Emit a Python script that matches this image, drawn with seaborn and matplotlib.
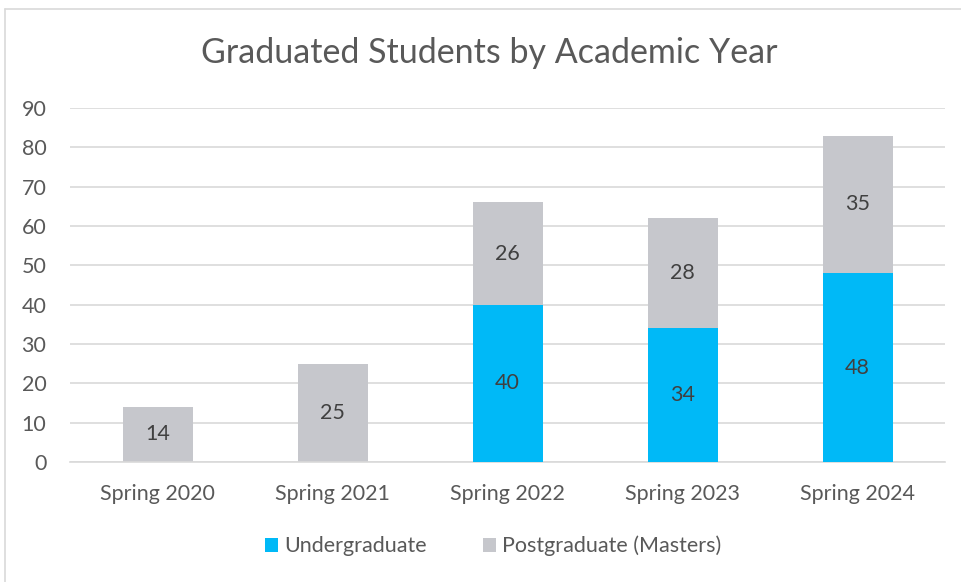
import matplotlib
matplotlib.use("Agg")
import matplotlib.pyplot as plt
import seaborn as sns
import pandas as pd
from matplotlib.patches import Patch
from matplotlib.lines import Line2D

categories = ["Spring 2020", "Spring 2021", "Spring 2022", "Spring 2023", "Spring 2024"]
undergraduate = [0, 0, 40, 34, 48]
postgraduate = [14, 25, 26, 28, 35]
yticks = [0, 10, 20, 30, 40, 50, 60, 70, 80, 90]

BLUE = "#00B9F7"
GRAY = "#C6C7CC"
TEXT = "#595959"

sns.set_theme(style="white")
plt.rcParams["font.family"] = ["Lato", "DejaVu Sans"]

df = pd.DataFrame({"cat": categories, "ug": undergraduate, "pg": postgraduate})
df["total"] = df["ug"] + df["pg"]

fig = plt.figure(figsize=(9.62, 5.82), dpi=100)
ax = fig.add_axes([70/962, 1-462/582, (945-70)/962, (462-108)/582])

sns.barplot(data=df, x="cat", y="total", color=GRAY, width=0.4, ax=ax,
            saturation=1, edgecolor="none", zorder=2)
sns.barplot(data=df, x="cat", y="ug", color=BLUE, width=0.4, ax=ax,
            saturation=1, edgecolor="none", zorder=3)

for i, (u, p) in enumerate(zip(undergraduate, postgraduate)):
    if u > 0:
        ax.text(i, u/2, str(u), ha="center", va="center", fontsize=15.5, color="#404040", zorder=5)
    if p > 0:
        ax.text(i, u + p/2, str(p), ha="center", va="center", fontsize=15.5, color="#404040", zorder=5)

ax.set_ylim(0, 90)
ax.set_xlim(-0.5, 4.5)
ax.set_yticks(yticks)
ax.yaxis.grid(True, color="#D9D9D9", linewidth=1.2, zorder=0)
ax.set_axisbelow(True)
for s in ["top", "right", "left"]:
    ax.spines[s].set_visible(False)
ax.spines["bottom"].set_color("#D9D9D9")
ax.spines["bottom"].set_linewidth(1.2)
ax.tick_params(axis="both", length=0, labelsize=15.5, labelcolor=TEXT)
ax.tick_params(axis="x", pad=16)
ax.tick_params(axis="y", pad=17)
ax.set_xlabel("")
ax.set_ylabel("")

fig.text(489/962, 1-53/582, "Graduated Students by Academic Year", ha="center", va="center",
         fontsize=24.5, color=TEXT)

handles = [Patch(facecolor=BLUE, edgecolor="none", label="Undergraduate"),
           Patch(facecolor=GRAY, edgecolor="none", label="Postgraduate (Masters)")]
fig.legend(handles=handles, loc="center", bbox_to_anchor=(493/962, 1-546/582), ncol=2,
           frameon=False, fontsize=15.5, labelcolor=TEXT, handlelength=0.6, handleheight=0.6,
           handletextpad=0.3, columnspacing=2.6)

# chart border (left and top)
fig.add_artist(Line2D([5/962, 5/962], [0, 1-9/582], color="#D9D9D9", linewidth=1.2))
fig.add_artist(Line2D([5/962, 1], [1-9/582, 1-9/582], color="#D9D9D9", linewidth=1.2))

fig.savefig("out.png", dpi=100)
